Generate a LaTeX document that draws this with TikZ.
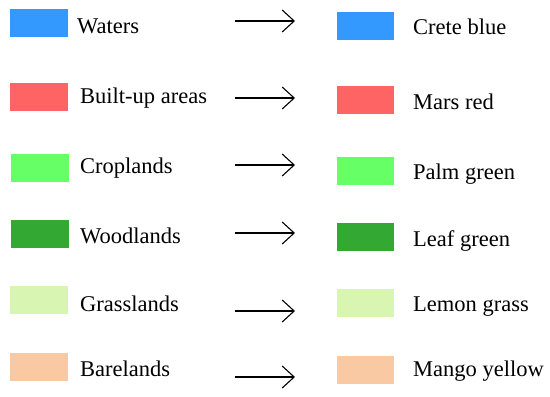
\documentclass[tikz,border=0pt]{standalone}
\usepackage{fontspec}
\setmainfont{Liberation Serif}
\usetikzlibrary{arrows.meta}
\definecolor{creteblue}{HTML}{3399FF}
\definecolor{marsred}{HTML}{FF6464}
\definecolor{palmgreen}{HTML}{66FF66}
\definecolor{leafgreen}{HTML}{33A833}
\definecolor{lemongrass}{HTML}{D8F6B2}
\definecolor{mangoyellow}{HTML}{F8C9A3}
\tikzset{
  swatch/.style={draw=none, inner sep=0pt, minimum width=58pt, minimum height=28pt},
  label/.style={anchor=base west, inner sep=0pt, font=\fontsize{22.5pt}{26pt}\selectfont},
  maparrow/.style={line width=1.6pt, -{Straight Barb[length=12pt,width=22pt,line width=1.1pt]}}
}
\begin{document}
\begin{tikzpicture}[x=1pt,y=-1pt]
\useasboundingbox (0,0) rectangle (550,397);
% left swatches
\node[swatch, fill=creteblue]   (l1) at (39,23) {};
\node[swatch, fill=marsred]     (l2) at (39,97) {};
\node[swatch, fill=palmgreen]   (l3) at (40,167.5) {};
\node[swatch, fill=leafgreen]   (l4) at (40,234) {};
\node[swatch, fill=lemongrass]  (l5) at (39,300) {};
\node[swatch, fill=mangoyellow] (l6) at (39,366.5) {};
% left labels
\node[label] (lt1) at (77,33) {Waters};
\node[label] (lt2) at (80,103) {Built-up areas};
\node[label] (lt3) at (80,173) {Croplands};
\node[label] (lt4) at (80,243) {Woodlands};
\node[label] (lt5) at (80,311) {Grasslands};
\node[label] (lt6) at (80,376) {Barelands};
% right swatches
\node[swatch, minimum width=57pt, fill=creteblue]   (r1) at (365.5,26) {};
\node[swatch, minimum width=57pt, fill=marsred]     (r2) at (365.5,100) {};
\node[swatch, minimum width=57pt, fill=palmgreen]   (r3) at (365.5,170.5) {};
\node[swatch, minimum width=57pt, fill=leafgreen]   (r4) at (365.5,237) {};
\node[swatch, minimum width=57pt, fill=lemongrass]  (r5) at (365.5,303) {};
\node[swatch, minimum width=57pt, fill=mangoyellow] (r6) at (365.5,369.5) {};
% right labels
\node[label] (rt1) at (413,34) {Crete blue};
\node[label] (rt2) at (413,109) {Mars red};
\node[label] (rt3) at (413,179) {Palm green};
\node[label] (rt4) at (413,246) {Leaf green};
\node[label] (rt5) at (413,311) {Lemon grass};
\node[label] (rt6) at (413,376) {Mango yellow};
% arrows
\coordinate (a1s) at (235,21);  \coordinate (a1e) at (295,21);
\coordinate (a2s) at (235,98);  \coordinate (a2e) at (295,98);
\coordinate (a3s) at (235,165); \coordinate (a3e) at (295,165);
\coordinate (a4s) at (235,233); \coordinate (a4e) at (295,233);
\coordinate (a5s) at (235,311); \coordinate (a5e) at (295,311);
\coordinate (a6s) at (235,377); \coordinate (a6e) at (295,377);
\foreach \i in {1,...,6} {\draw[maparrow] (a\i s) -- (a\i e);}
\end{tikzpicture}
\end{document}
